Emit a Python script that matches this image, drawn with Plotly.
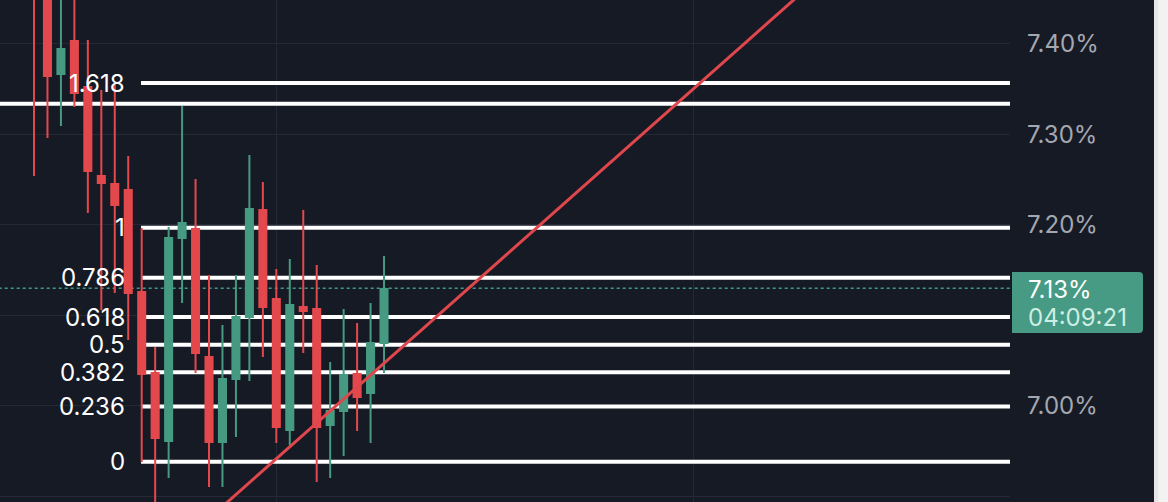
import plotly.graph_objects as go

# ---------------- data ----------------
candle_idx = list(range(27))
opens  = [7.475, 7.470, 7.3669, 7.4033, 7.3525, 7.2541, 7.2453, 7.2387, 7.1260, 7.0365,
          6.9613, 7.1856, 7.1956, 7.0541, 6.9602, 7.0298, 7.0983, 7.2166, 7.1182, 6.9735,
          7.1094, 7.1072, 6.9790, 6.9945, 7.0354, 7.0144, 7.0696]
highs  = [7.490, 7.480, 7.460, 7.460, 7.4044, 7.3492, 7.3547, 7.2762, 7.1967, 7.0652,
          7.1978, 7.3315, 7.2508, 7.1448, 7.0895, 7.1448, 7.2773, 7.2475, 7.1514, 7.1624,
          7.2166, 7.1558, 7.0486, 7.1072, 7.0917, 7.1138, 7.1657]
lows   = [7.2541, 7.2961, 7.3094, 7.3304, 7.2133, 7.1061, 7.1249, 7.0729, 6.9381, 6.8740,
          6.9204, 7.1138, 7.0365, 6.9105, 6.9105, 6.9657, 7.0276, 7.0541, 6.9591, 6.9569,
          7.0586, 6.9160, 6.9204, 6.9448, 6.9724, 6.9591, 7.0365]
closes = [7.455, 7.3646, 7.3945, 7.3459, 7.2597, 7.2464, 7.2221, 7.1249, 7.0354, 6.9646,
          7.1856, 7.2022, 7.0586, 6.9602, 7.0298, 7.0983, 7.2177, 7.1094, 6.9768, 7.1116,
          7.1050, 6.9768, 6.9945, 7.0343, 7.0099, 7.0696, 7.1293]

fib_levels = [0, 0.236, 0.382, 0.5, 0.618, 0.786, 1, 1.618]
fib_labels = ["0", "0.236", "0.382", "0.5", "0.618", "0.786", "1", "1.618"]
fib_low, fib_high = 6.9385, 7.197
fib_start = 7.95

extra_level = 7.334

trend_x = [17.76, 49.48]
trend_y = [6.9385, 7.357]

last_price = 7.13
last_label = "7.13%"
countdown = "04:09:21"

y_ticks = [6.9, 7.0, 7.1, 7.2, 7.3, 7.4]
# 7.10% sits behind the price label in the original, so it is left blank
y_ticktext = ["6.90%", "7.00%", "", "7.20%", "7.30%", "7.40%"]
x_grid = [18, 49]

x_range = [-2.526, 72.5]
y_range = [6.8939, 7.4486]

# ---------------- styling ----------------
BG = "#161a25"
GRID = "#252935"
RED = "#e3484c"
GREEN = "#459a81"
STRIP = "#f2f2f2"
FONT = "Inter"
FS = 24

fig = go.Figure()

fig.add_trace(go.Candlestick(
    x=candle_idx, open=opens, high=highs, low=lows, close=closes,
    increasing=dict(line=dict(color=GREEN, width=2), fillcolor=GREEN),
    decreasing=dict(line=dict(color=RED, width=2), fillcolor=RED),
    whiskerwidth=0, hoverinfo="skip", showlegend=False,
))

# trend line extended across the visible range
slope = (trend_y[1] - trend_y[0]) / (trend_x[1] - trend_x[0])
tx = [x_range[0] - 5, x_range[1] + 5]
ty = [trend_y[0] + slope * (v - trend_x[0]) for v in tx]
fig.add_trace(go.Scatter(x=tx, y=ty, mode="lines",
                         line=dict(color="#e0474c", width=3),
                         hoverinfo="skip", showlegend=False))

W, H = 1168, 502
PW = 1010  # plot width in px

def px(xp):
    return xp / PW

def py(yp):
    return 1 - yp / H

shapes = []
annotations = []

# dark price-scale panel (paper background is the light strip)
shapes.append(dict(type="rect", xref="paper", yref="paper", layer="below",
                   x0=0, x1=px(1154), y0=0, y1=1,
                   fillcolor=BG, line=dict(width=0)))
shapes.append(dict(type="rect", xref="paper", yref="paper", layer="below",
                   x0=px(1154), x1=px(1158), y0=0, y1=1,
                   fillcolor="#e6e6e6", line=dict(width=0)))

# fib lines
for lvl, lab in zip(fib_levels, fib_labels):
    val = fib_low + lvl * (fib_high - fib_low)
    shapes.append(dict(type="line", xref="x", yref="y", layer="between",
                       x0=fib_start, x1=x_range[1] + 5, y0=val, y1=val,
                       line=dict(color="#ffffff", width=4)))
    annotations.append(dict(x=fib_start, y=val, xref="x", yref="y",
                            text=lab, showarrow=False, xanchor="right",
                            yanchor="middle", xshift=-14,
                            font=dict(family=FONT, size=FS, color="#ffffff")))

# extra horizontal line
shapes.append(dict(type="line", xref="x", yref="y", layer="between",
                   x0=x_range[0] - 5, x1=x_range[1] + 5, y0=extra_level, y1=extra_level,
                   line=dict(color="#ffffff", width=4)))

# last price dotted line
shapes.append(dict(type="line", xref="x", yref="y", layer="between",
                   x0=x_range[0] - 5, x1=x_range[1] + 5, y0=last_price, y1=last_price,
                   line=dict(color="#3f9a86", width=1.5, dash="dot")))

# price label box (rounded right corners)
x0, x1, y0, y1, r = 1012, 1143, 272, 333, 4
path = (f"M {px(x0)},{py(y0)} L {px(x1 - r)},{py(y0)} "
        f"Q {px(x1)},{py(y0)} {px(x1)},{py(y0 + r)} "
        f"L {px(x1)},{py(y1 - r)} Q {px(x1)},{py(y1)} {px(x1 - r)},{py(y1)} "
        f"L {px(x0)},{py(y1)} Z")
shapes.append(dict(type="path", xref="paper", yref="paper", path=path,
                   fillcolor="#479a84", line=dict(width=0), layer="above"))

annotations.append(dict(x=px(1026), y=py(289), xref="paper", yref="paper",
                        text=last_label, showarrow=False, xanchor="left", yanchor="middle",
                        font=dict(family=FONT, size=FS, color="#ffffff")))
annotations.append(dict(x=px(1026), y=py(317), xref="paper", yref="paper",
                        text=countdown, showarrow=False, xanchor="left", yanchor="middle",
                        font=dict(family=FONT, size=FS, color="#cdeee2")))

fig.update_layout(
    width=W, height=H,
    margin=dict(l=0, r=W - PW, t=0, b=0),
    paper_bgcolor=STRIP, plot_bgcolor=BG,
    showlegend=False,
    shapes=shapes, annotations=annotations,
    boxgap=0.25,
    xaxis=dict(range=x_range, rangeslider=dict(visible=False),
               tickvals=x_grid, showticklabels=False, ticks="",
               showgrid=True, gridcolor=GRID, gridwidth=1, zeroline=False,
               showline=False),
    yaxis=dict(range=y_range, side="right", tickvals=y_ticks, ticktext=y_ticktext,
               ticks="", ticklabelstandoff=16,
               showgrid=True, gridcolor=GRID, gridwidth=1, zeroline=False,
               showline=False,
               tickfont=dict(family=FONT, size=FS, color="#a4a7b0")),
    hovermode=False,
)

fig.write_html(
    "out.html", config={"displayModeBar": False},
    post_script=("document.body.style.margin='0';"
                 "document.body.style.overflow='hidden';"
                 "document.documentElement.style.overflow='hidden';"
                 "document.body.style.background='" + STRIP + "';"))
